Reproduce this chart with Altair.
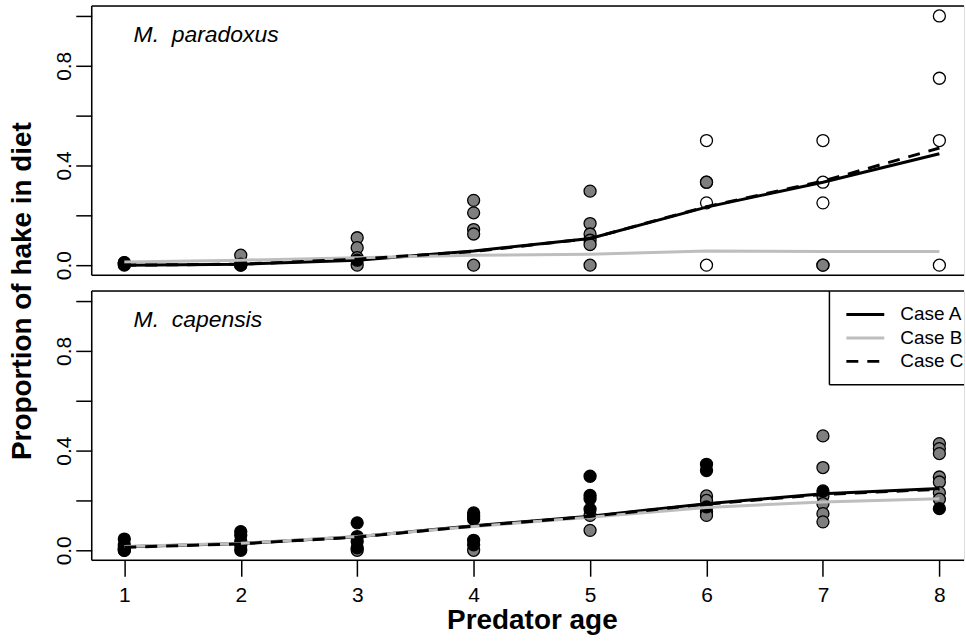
import altair as alt
import pandas as pd

FONT = "Liberation Sans"

ages = [1, 2, 3, 4, 5, 6, 7, 8]

# ---- M. paradoxus: observed proportions (three point styles) ----
par_white_age = [6, 6, 6, 6, 7, 7, 7, 7, 8, 8, 8, 8]
par_white_val = [0.50, 0.333, 0.25, 0.0, 0.50, 0.333, 0.25, 0.0, 1.0, 0.75, 0.50, 0.0]
par_gray_age = [1, 2, 2, 3, 3, 3, 3, 4, 4, 4, 4, 4, 5, 5, 5, 5, 5, 5, 6, 7]
par_gray_val = [0.01, 0.04, 0.0, 0.11, 0.07, 0.03, 0.0, 0.26, 0.21, 0.143, 0.125, 0.0,
                0.297, 0.167, 0.125, 0.10, 0.083, 0.0, 0.333, 0.0]
par_black_age = [1, 1, 1, 2, 2, 3]
par_black_val = [0.0, 0.004, 0.01, 0.0, 0.004, 0.02]

# ---- M. capensis: observed proportions ----
cap_white_age = []
cap_white_val = []
cap_gray_age = [1, 3, 4, 5, 5, 6, 6, 6, 6, 7, 7, 7, 7, 7, 7, 8, 8, 8, 8, 8, 8, 8]
cap_gray_val = [0.0, 0.0, 0.0, 0.14, 0.08, 0.218, 0.20, 0.154, 0.14,
                0.459, 0.332, 0.218, 0.187, 0.147, 0.114,
                0.428, 0.408, 0.388, 0.294, 0.274, 0.231, 0.205]
cap_black_age = [1, 1, 1, 1, 2, 2, 2, 2, 2, 3, 3, 3, 3, 4, 4, 4, 4, 4,
                 5, 5, 5, 5, 6, 6, 6, 7, 8]
cap_black_val = [0.045, 0.02, 0.008, 0.0, 0.075, 0.06, 0.035, 0.02, 0.0,
                 0.11, 0.055, 0.035, 0.01, 0.15, 0.137, 0.125, 0.04, 0.022,
                 0.297, 0.22, 0.207, 0.165, 0.345, 0.32, 0.174, 0.238, 0.167]

# ---- model fits ----
par_case_a = [0.0, 0.004, 0.02, 0.057, 0.107, 0.233, 0.333, 0.447]
par_case_b = [0.013, 0.02, 0.03, 0.04, 0.044, 0.057, 0.055, 0.055]
par_case_c = [0.0, 0.004, 0.024, 0.055, 0.107, 0.235, 0.337, 0.470]

cap_case_a = [0.014, 0.027, 0.054, 0.098, 0.137, 0.187, 0.227, 0.248]
cap_case_b = [0.015, 0.028, 0.055, 0.095, 0.133, 0.172, 0.194, 0.207]
cap_case_c = [0.012, 0.026, 0.053, 0.097, 0.136, 0.185, 0.224, 0.245]

cases = ["Case A", "Case B", "Case C"]
panel_labels = ["M.\u00a0 paradoxus", "M.\u00a0 capensis"]

# ---- layout ----
W = 875          # visible plot width (right edge of figure is cropped)
FULL_W = 883     # full plot width of the original figure
H = 270
x_lo = 0.72
x_hi = x_lo + W * (8.28 - 0.72) / FULL_W
y_dom = [-0.04, 1.04]

xscale = alt.Scale(domain=[x_lo, x_hi], nice=False, zero=False)
yscale = alt.Scale(domain=y_dom, nice=False, zero=False)

yaxis = alt.Axis(
    values=[0, 0.2, 0.4, 0.6, 0.8, 1.0],
    labelExpr="(round(datum.value*10) % 4 == 0) ? format(datum.value, '.1f') : ''",
    labelAngle=270, labelAlign="center", labelBaseline="alphabetic",
    labelPadding=5, labelFontSize=21, labelColor="black", labelFont=FONT,
    tickSize=16, tickWidth=1.5, tickColor="black",
    domain=False, grid=False, title=None, labelOverlap=False,
)
xaxis = alt.Axis(
    values=ages, format="d",
    labelPadding=8, labelFontSize=21, labelColor="black", labelFont=FONT,
    tickSize=16, tickWidth=1.5, tickColor="black",
    domain=False, grid=False, labelFlush=False,
    title="Predator age", titleFontSize=28, titleFontWeight="bold",
    titleFont=FONT, titleColor="black", titlePadding=1,
    titleX=FULL_W / 2, titleAlign="center",
)


def points_df(wa, wv, ga, gv, ba, bv):
    rows = []
    for a, v in zip(wa, wv):
        rows.append({"age": a, "prop": v, "src": "white"})
    for a, v in zip(ga, gv):
        rows.append({"age": a, "prop": v, "src": "gray"})
    for a, v in zip(ba, bv):
        rows.append({"age": a, "prop": v, "src": "black"})
    return pd.DataFrame(rows)


def lines_df(a, b, c):
    rows = []
    for name, vals in zip(cases, [a, b, c]):
        for ag, v in zip(ages, vals):
            rows.append({"age": ag, "prop": v, "case": name})
    return pd.DataFrame(rows)


def panel(pts, lns, label, bottom):
    base_x = alt.X("age:Q", scale=xscale, axis=(xaxis if bottom else None))
    pts_layer = alt.Chart(pts).mark_point(
        shape="circle", filled=True, size=145, stroke="black", strokeWidth=1.3, opacity=1
    ).encode(
        x=base_x,
        y=alt.Y("prop:Q", scale=yscale, axis=yaxis),
        fill=alt.Fill("src:N", scale=alt.Scale(domain=["white", "gray", "black"],
                                               range=["#ffffff", "#7f7f7f", "#000000"]),
                      legend=None),
    )
    line_a = alt.Chart(lns).transform_filter(alt.datum.case == "Case A").mark_line(
        color="black", strokeWidth=3).encode(x="age:Q", y="prop:Q")
    line_b = alt.Chart(lns).transform_filter(alt.datum.case == "Case B").mark_line(
        color="#bebebe", strokeWidth=3).encode(x="age:Q", y="prop:Q")
    line_c = alt.Chart(lns).transform_filter(alt.datum.case == "Case C").mark_line(
        color="black", strokeWidth=3, strokeDash=[12, 9]).encode(x="age:Q", y="prop:Q")

    frame_style = dict(color="black", strokeWidth=1.5)
    top_rule = alt.Chart().mark_rule(**frame_style).encode(
        x=alt.value(0), x2=alt.value(W), y=alt.value(0))
    bot_rule = alt.Chart().mark_rule(**frame_style).encode(
        x=alt.value(0), x2=alt.value(W), y=alt.value(H))
    left_rule = alt.Chart().mark_rule(**frame_style).encode(
        x=alt.value(0), y=alt.value(0), y2=alt.value(H))

    lab = alt.Chart().mark_text(
        align="left", baseline="alphabetic", font=FONT, fontSize=23,
        fontStyle="italic", color="black"
    ).encode(x=alt.value(42), y=alt.value(36), text=alt.value(label))

    layers = [pts_layer, line_a, line_b, line_c, top_rule, bot_rule, left_rule, lab]

    if not bottom:
        # y-axis title spanning both panels
        ytitle = alt.Chart().mark_text(
            angle=270, align="center", baseline="alphabetic", font=FONT,
            fontSize=28, fontWeight="bold", color="black"
        ).encode(x=alt.value(-61), y=alt.value(H + 16),
                 text=alt.value("Proportion of hake in diet"))
        bound = alt.Chart().mark_rule(strokeWidth=0, opacity=0).encode(
            x=alt.value(-91), x2=alt.value(W), y=alt.value(-4))
        layers += [ytitle, bound]
    else:
        # legend box (top-right, clipped by figure edge)
        lx0, ly1 = 740, 94
        box_fill = alt.Chart().mark_rect(fill="white", strokeWidth=0).encode(
            x=alt.value(lx0), x2=alt.value(W), y=alt.value(0), y2=alt.value(ly1))
        box_left = alt.Chart().mark_rule(**frame_style).encode(
            x=alt.value(lx0), y=alt.value(0), y2=alt.value(ly1))
        box_bot = alt.Chart().mark_rule(**frame_style).encode(
            x=alt.value(lx0), x2=alt.value(W), y=alt.value(ly1))
        rows_y = [23.5, 47, 70.5]
        styles = [dict(color="black"), dict(color="#bebebe"),
                  dict(color="black", strokeDash=[12, 9])]
        leg = [box_fill, box_left, box_bot]
        for name, yy, st in zip(cases, rows_y, styles):
            leg.append(alt.Chart().mark_rule(strokeWidth=3, **st).encode(
                x=alt.value(757), x2=alt.value(795), y=alt.value(yy)))
            leg.append(alt.Chart().mark_text(
                align="left", baseline="middle", font=FONT, fontSize=19, color="black"
            ).encode(x=alt.value(811), y=alt.value(yy), text=alt.value(name)))
        bound = alt.Chart().mark_rule(strokeWidth=0, opacity=0).encode(
            x=alt.value(-91), x2=alt.value(W), y=alt.value(H + 78))
        layers = [pts_layer, line_a, line_b, line_c] + leg + \
                 [top_rule, bot_rule, left_rule, lab, bound]

    return alt.layer(*layers).properties(width=W, height=H)


top = panel(points_df(par_white_age, par_white_val, par_gray_age, par_gray_val,
                      par_black_age, par_black_val),
            lines_df(par_case_a, par_case_b, par_case_c), panel_labels[0], False)
bottom = panel(points_df(cap_white_age, cap_white_val, cap_gray_age, cap_gray_val,
                         cap_black_age, cap_black_val),
               lines_df(cap_case_a, cap_case_b, cap_case_c), panel_labels[1], True)

chart = alt.vconcat(top, bottom, spacing=16, bounds="flush").properties(
    padding=0, background="white"
).configure_view(stroke=None).configure(font=FONT)

chart.save("out.html", embed_options={"renderer": "svg", "actions": False})
